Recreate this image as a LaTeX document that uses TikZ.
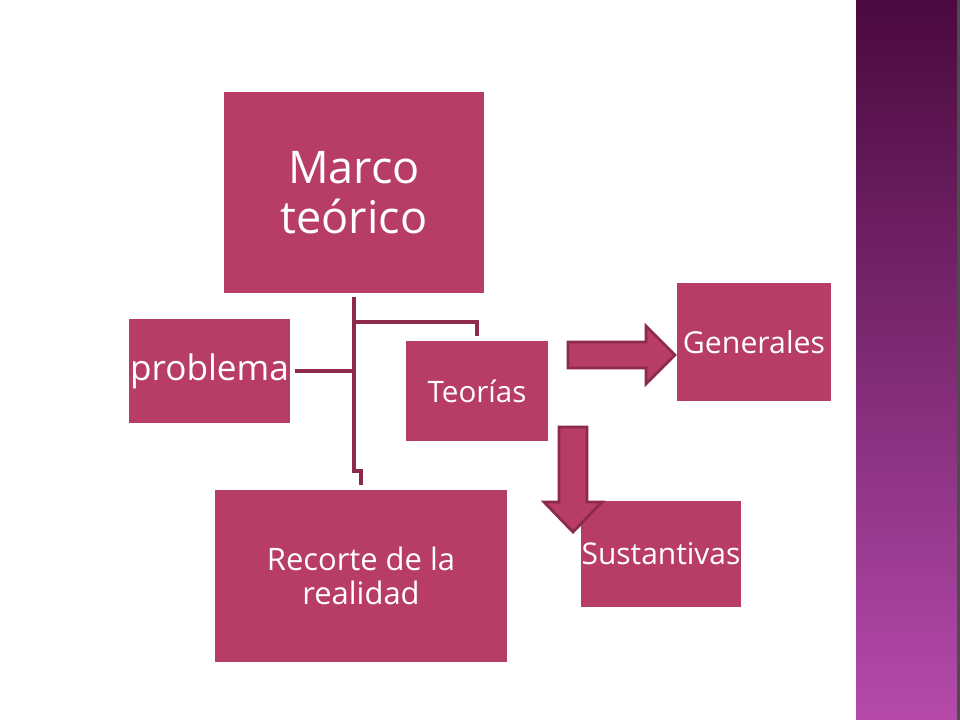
\documentclass[tikz,border=0pt]{standalone}
\usepackage{fontspec}
\setmainfont{Open Sans}
\usepackage{tikz}
\usetikzlibrary{positioning}

\definecolor{boxrose}{HTML}{B83D66}
\definecolor{linkrose}{HTML}{8B2A4C}
\definecolor{striptop}{HTML}{4A0A3F}
\definecolor{stripbot}{HTML}{B54AAB}

\tikzset{
  box/.style={rectangle, fill=boxrose, text=white, inner sep=0pt, align=center},
  link/.style={draw=linkrose, line width=2.6pt},
  blockarrow/.style={fill=boxrose, draw=linkrose, line width=2pt, line join=miter}
}

\begin{document}
\begin{tikzpicture}[x=0.025cm, y=-0.025cm]
% page and side strip
\fill[white] (0,0) rectangle (960,720);
\shade[top color=striptop, bottom color=stripbot] (856,0) rectangle (957,720);
\fill[black!70] (957,0) rectangle (960,720);

\begin{scope}[every node/.style={box}]
\node[minimum width=6.5cm, minimum height=5.025cm, font=\fontsize{32}{36}\selectfont] (marco) at (354, 192.5) {Marco\\teórico};
\node[minimum width=4.025cm, minimum height=2.6cm, font=\fontsize{25}{28}\selectfont] (problema) at (209.5, 371) {problema};
\node[minimum width=3.55cm, minimum height=2.5cm, font=\fontsize{21}{24}\selectfont] (teorias) at (477, 391) {Teorías};
\node[minimum width=3.85cm, minimum height=2.95cm, font=\fontsize{21.5}{24}\selectfont] (generales) at (754, 342) {Generales};
\node[minimum width=4cm, minimum height=2.65cm, font=\fontsize{21.3}{24}\selectfont] (sustantivas) at (661, 554) {Sustantivas};
\node[minimum width=7.3cm, minimum height=4.3cm, font=\fontsize{22}{24.5}\selectfont] (recorte) at (361, 576) {Recorte de la\\realidad};
\end{scope}

% connectors
\coordinate (tronco) at (354, 322);
\coordinate (codo) at (354, 471);
\draw[link, shorten <=0.1cm] (marco.south -| tronco) -- (codo) -| ([yshift=0.125cm]recorte.north);
\draw[link] (tronco) -| ([yshift=0.125cm]teorias.north);
\draw[link, shorten <=0.125cm] (problema.east) -- (problema.east -| tronco);

% block arrows
\filldraw[blockarrow] (568,342) -- (646,342) -- (646,326) -- (675,355) -- (646,384) -- (646,368) -- (568,368) -- cycle;
\filldraw[blockarrow] (559,427) -- (587,427) -- (587,502) -- (602,502) -- (573,532) -- (544,502) -- (559,502) -- cycle;
\end{tikzpicture}
\end{document}
